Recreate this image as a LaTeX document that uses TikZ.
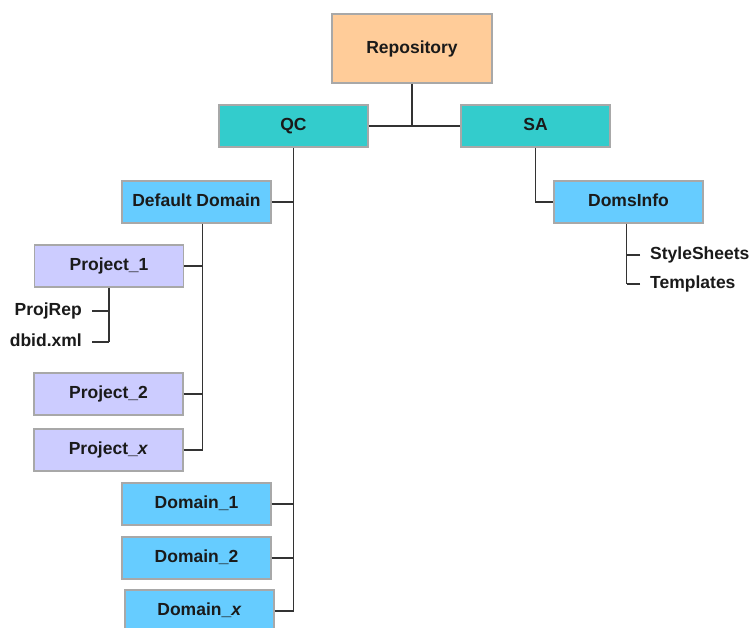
\documentclass[tikz,border=0pt]{standalone}
\usepackage{fontspec}
\setmainfont{Liberation Sans}
\usetikzlibrary{positioning}
\definecolor{peach}{HTML}{FFCC99}
\definecolor{teal2}{HTML}{33CCCC}
\definecolor{sky}{HTML}{66CCFF}
\definecolor{lav}{HTML}{CCCCFF}
\definecolor{bord}{HTML}{A8A8A8}
\definecolor{txt}{HTML}{1A1A1A}
\definecolor{conn}{HTML}{333333}
\tikzset{
  box/.style={rectangle, draw=bord, line width=1.4pt, minimum width=149pt, minimum height=42pt, inner sep=0pt, text=txt, text height=12.6pt, text depth=3.6pt, font=\fontsize{17.5}{20}\selectfont\bfseries},
  repobox/.style={box, fill=peach, minimum width=160pt, minimum height=69pt},
  tealbox/.style={box, fill=teal2},
  skybox/.style={box, fill=sky},
  lavbox/.style={box, fill=lav},
  leaf/.style={inner sep=0pt, text=txt, text height=12.6pt, text depth=3.6pt, font=\fontsize{17.5}{20}\selectfont\bfseries},
  link/.style={draw=conn, line width=1.5pt}
}
\begin{document}
\begin{tikzpicture}[x=1pt,y=-1pt]
\useasboundingbox[fill=white] (0,0) rectangle (749,627);
\node[repobox] (repo) at (412,48.5) {Repository};
\node[tealbox] (qc) at (293.5,126) {QC};
\node[tealbox] (sa) at (535.5,126) {SA};
\node[skybox] (dd) at (196.5,202) {Default Domain};
\node[skybox] (di) at (628.5,202) {DomsInfo};
\node[lavbox] (p1) at (109,266) {Project\_1};
\node[lavbox] (p2) at (108.5,394) {Project\_2};
\node[lavbox] (px) at (108.5,450) {Project\_\textit{x}};
\node[skybox] (d1) at (196.5,504) {Domain\_1};
\node[skybox] (d2) at (196.5,558) {Domain\_2};
\node[skybox] (dx) at (199.5,611) {Domain\_\textit{x}};
\node[leaf, anchor=east] (pr) at (82,311) {ProjRep};
\node[leaf, anchor=east] (db) at (82,342) {dbid.xml};
\node[leaf, anchor=west] (ss) at (650,255) {StyleSheets};
\node[leaf, anchor=west] (tp) at (650,284) {Templates};
% repository
\draw[link] (repo.south) -- (repo.south |- qc.east);
\draw[link] (qc.east) -- (sa.west);
% QC tree
\draw[link] (qc.south) -- (qc.south |- dx.east);
\foreach \n in {dd,d1,d2,dx} \draw[link] (\n.east) -- (\n.east -| qc.south);
% Default domain tree
\coordinate (ddb) at ([xshift=6pt]dd.south);
\draw[link] (ddb) -- (ddb |- px.east);
\foreach \n in {p1,p2,px} \draw[link] (\n.east) -- (\n.east -| ddb);
% Project_1 tree
\draw[link] (p1.south) -- (p1.south |- db.east);
\draw[link] ([xshift=10pt]pr.east) -- (pr.east -| p1.south);
\draw[link] ([xshift=10pt]db.east) -- (db.east -| p1.south);
% SA tree
\draw[link] (sa.south) -- (sa.south |- di.west) -- (di.west);
\coordinate (dib) at ([xshift=-2pt]di.south);
\draw[link] (dib) -- (dib |- tp.west);
\draw[link] ([xshift=-10pt]ss.west) -- (ss.west -| dib);
\draw[link] ([xshift=-10pt]tp.west) -- (tp.west -| dib);
\end{tikzpicture}
\end{document}
